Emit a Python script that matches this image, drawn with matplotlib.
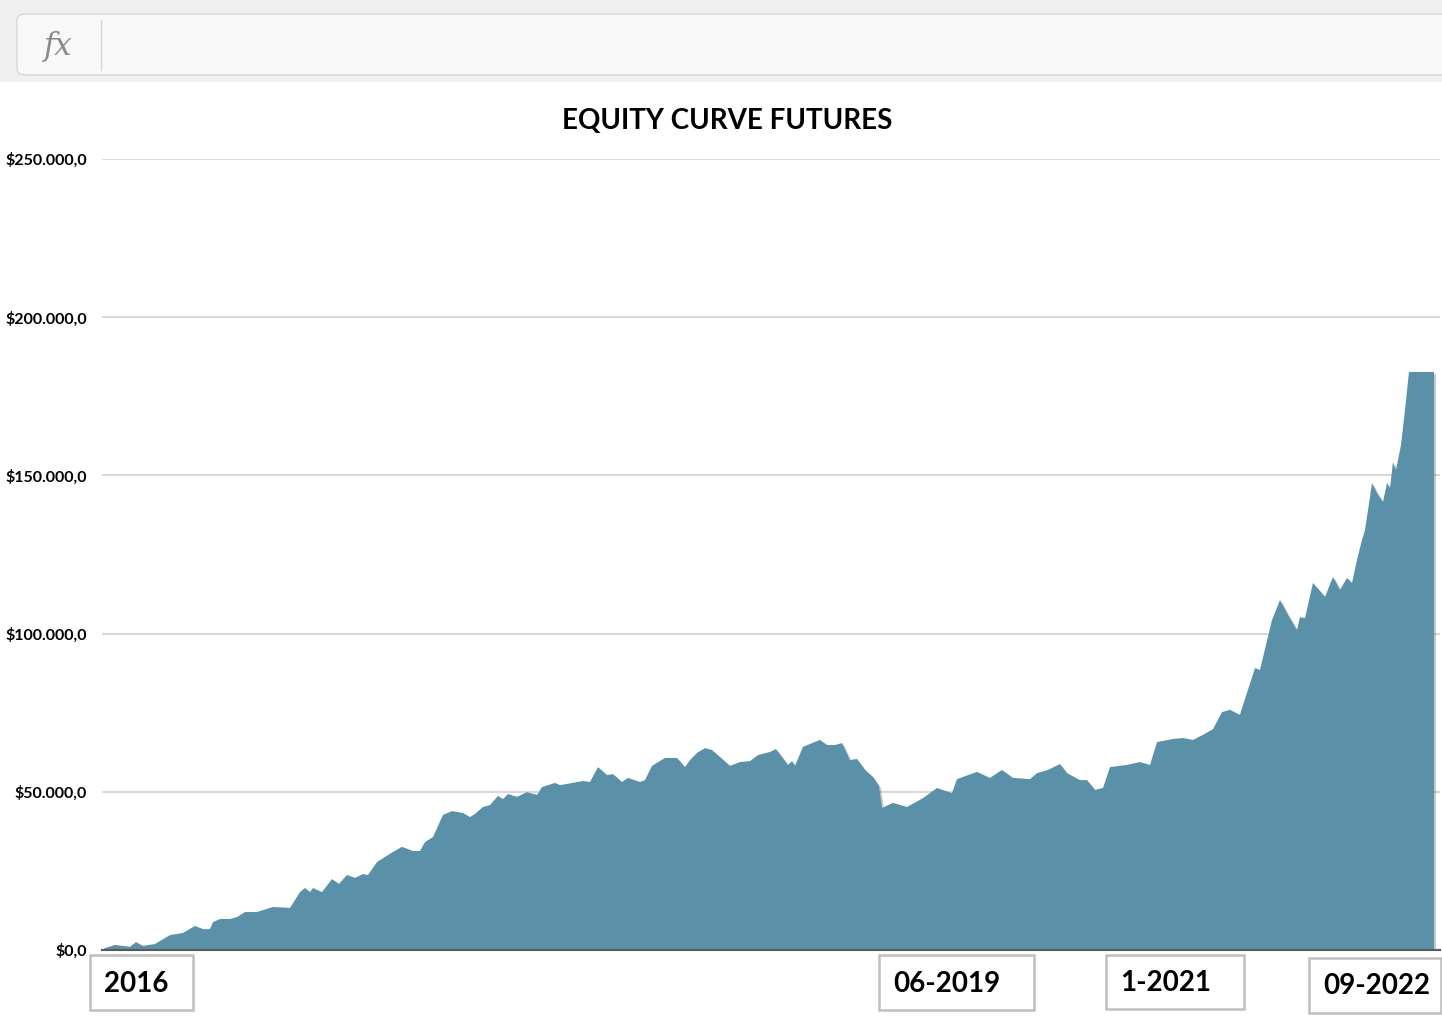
import matplotlib
matplotlib.use("Agg")
import matplotlib.pyplot as plt
import matplotlib.patheffects as pe
from matplotlib.patches import Rectangle, FancyBboxPatch
from matplotlib.ticker import FuncFormatter

# trade number (running count) and equity in thousands of dollars
trade_no = [0, 3, 13, 28, 34, 41, 53, 68, 81, 93, 101, 108, 111, 118, 128, 135, 143, 155,
            171, 188, 198, 203, 208, 211, 220, 230, 237, 245, 253, 261, 266, 275, 283, 291,
            300, 311, 318, 323, 331, 341, 350, 361, 368, 373, 381, 388, 396, 401, 406, 415,
            425, 435, 440, 453, 458, 481, 488, 496, 505, 511, 520, 526, 538, 543, 550, 563,
            575, 583, 588, 595, 603, 610, 618, 628, 638, 648, 656, 668, 674, 680, 686, 690,
            693, 701, 718, 725, 733, 740, 748, 755, 763, 771, 777, 780, 791, 805, 821, 835,
            850, 855, 875, 888, 900, 911, 928, 935, 946, 958, 965, 978, 985, 993, 1001,
            1008, 1025, 1038, 1048, 1055, 1071, 1081, 1091, 1101, 1111, 1120, 1128, 1138,
            1141, 1153, 1158, 1170, 1178, 1186, 1195, 1198, 1203, 1211, 1223, 1231, 1238,
            1245, 1250, 1255, 1260, 1263, 1266, 1270, 1275, 1281, 1285, 1288, 1291, 1294,
            1299, 1303, 1307, 1331, 1332]
equity_k = [0.0, 0.6, 1.6, 1.0, 2.5, 1.3, 1.9, 4.7, 5.4, 7.6, 6.6, 6.6, 8.8, 9.8, 9.8, 10.4,
            12.0, 12.0, 13.6, 13.3, 18.3, 19.6, 18.3, 19.6, 18.3, 22.4, 20.9, 23.7, 22.8,
            24.0, 23.7, 27.8, 29.4, 31.0, 32.6, 31.3, 31.3, 34.1, 35.7, 42.7, 43.9, 43.3,
            42.0, 43.0, 45.2, 45.8, 48.7, 47.7, 49.3, 48.4, 49.9, 49.0, 51.5, 52.8, 52.1,
            53.4, 53.1, 57.8, 55.3, 55.6, 53.1, 54.4, 53.1, 53.7, 58.2, 60.7, 60.7, 57.8,
            60.0, 62.3, 63.8, 63.2, 61.0, 58.2, 59.4, 59.7, 61.6, 62.6, 63.5, 61.0, 58.5,
            59.7, 58.2, 64.2, 66.4, 64.8, 64.8, 65.4, 60.0, 60.4, 56.9, 54.7, 51.8, 44.9,
            46.5, 45.2, 48.0, 51.2, 49.6, 54.0, 56.3, 54.4, 56.9, 54.4, 54.0, 55.9, 56.9,
            58.8, 55.9, 53.7, 53.7, 50.6, 51.2, 57.8, 58.5, 59.4, 58.5, 65.7, 66.7, 67.0,
            66.4, 68.0, 69.8, 75.2, 75.9, 74.3, 77.4, 89.1, 88.5, 104.3, 110.6, 105.9,
            101.1, 105.2, 104.9, 116.0, 111.6, 117.9, 113.8, 117.6, 116.0, 123.3, 129.6,
            132.7, 139.0, 147.6, 144.4, 141.6, 147.6, 146.0, 154.2, 151.7, 159.6, 170.7,
            182.7, 182.7, 182.7]
equity = [v * 1000 for v in equity_k]

y_ticks = [0, 50000, 100000, 150000, 200000, 250000]
period_labels = ["2016", "06-2019", "1-2021", "09-2022"]

fill_color = "#5a91a8"
font = "Lato"

fig = plt.figure(figsize=(14.42, 10.24), dpi=100)
W, H = 1442, 1024

def fx(px):
    return px / W

def fy(py):
    return 1 - py / H

# formula bar at the top (Excel screenshot)
fig.patches.append(Rectangle((0, fy(82)), 1, 82 / H, transform=fig.transFigure,
                             facecolor="#f0f0f0", edgecolor="none", zorder=0))
fig.patches.append(FancyBboxPatch((fx(17), fy(75)), fx(1460 - 17), 61 / H,
                                  boxstyle="round,pad=0,rounding_size=0.006",
                                  transform=fig.transFigure, facecolor="#f8f8f8",
                                  edgecolor="#d6d6d6", linewidth=1, zorder=1))
fig.lines.append(plt.Line2D([fx(101), fx(101)], [fy(20), fy(70)], transform=fig.transFigure,
                            color="#d6d6d6", linewidth=1))
fig.text(fx(58), fy(46), "fx", ha="center", va="center", fontsize=22, style="italic",
         family="DejaVu Serif", color="#8a8a8a")

# chart
ax = fig.add_axes([fx(102), fy(950), fx(1440 - 102), (950 - 159) / H])
area = ax.fill_between(trade_no, equity, 0, color=fill_color, linewidth=0, zorder=2)
area.set_path_effects([pe.SimplePatchShadow(offset=(1.5, -1.5), alpha=0.25), pe.Normal()])
ax.set_xlim(0, 1338)
ax.set_ylim(0, 250000)
ax.set_yticks(y_ticks)
ax.yaxis.set_major_formatter(FuncFormatter(
    lambda v, p: "$" + f"{v:,.1f}".replace(",", "X").replace(".", ",").replace("X", ".")))
ax.grid(axis="y", color="#d9d9d9", linewidth=1.5, zorder=0)
ax.set_axisbelow(True)
ax.set_xticks([])
for side in ["top", "right", "left"]:
    ax.spines[side].set_visible(False)
ax.spines["bottom"].set_color("#595959")
ax.spines["bottom"].set_linewidth(1.5)
ax.spines["bottom"].set_zorder(3)
ax.tick_params(axis="y", length=0, pad=11)
for lab in ax.get_yticklabels():
    lab.set_fontfamily(font)
    lab.set_fontweight("bold")
    lab.set_fontsize(11.5)

fig.text(fx(727), fy(121), "EQUITY CURVE FUTURES", ha="center", va="center",
         fontsize=20, fontweight="bold", family=font)

# period text boxes under the axis
boxes = [(90, 955, 193, 1010), (879, 955, 1034, 1010), (1106, 955, 1244, 1009),
         (1309, 958, 1441, 1013)]
for lab, (x0, y0, x1, y1) in zip(period_labels, boxes):
    fig.patches.append(Rectangle((fx(x0), fy(y1)), fx(x1 - x0), (y1 - y0) / H,
                                 transform=fig.transFigure, facecolor="white",
                                 edgecolor="#bfbfbf", linewidth=1.8, zorder=3))
    fig.text(fx(x0 + 14), fy((y0 + y1) / 2 + 1), lab, ha="left", va="center",
             fontsize=20, fontweight="bold", family=font, zorder=4)

fig.savefig("out.png", dpi=100, facecolor="white")
